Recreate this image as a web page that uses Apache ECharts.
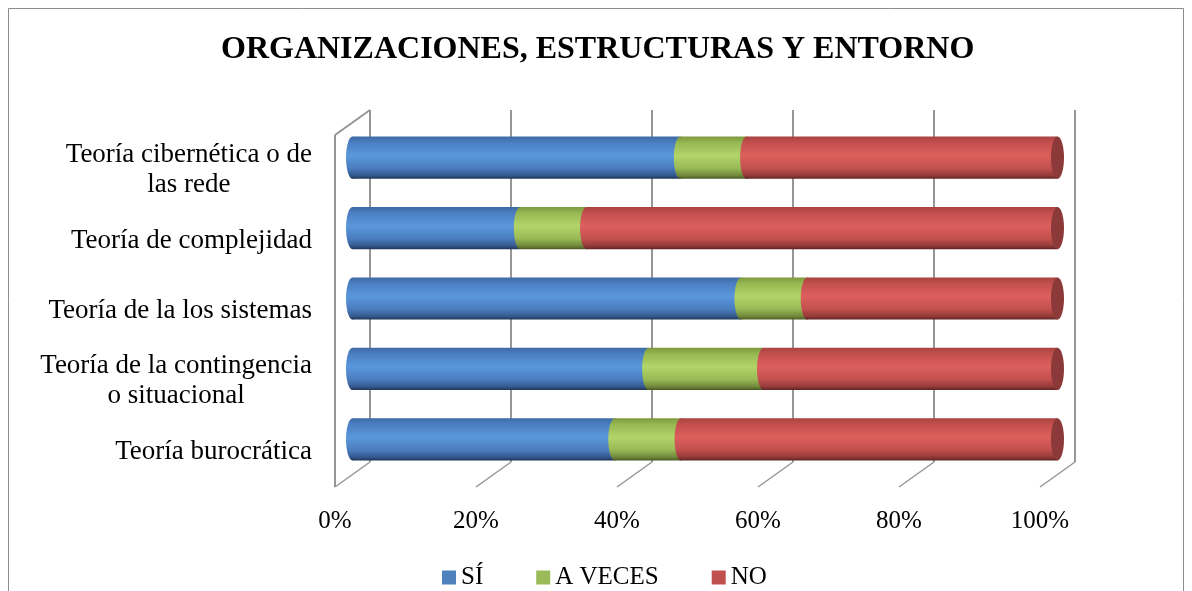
<!DOCTYPE html>
<html>
<head>
<meta charset="utf-8">
<script src="https://cdn.jsdelivr.net/npm/echarts@6/dist/echarts.min.js"></script>
<style>
  html, body { margin: 0; padding: 0; background: #fff; }
  #chart { width: 1192px; height: 591px; }
</style>
</head>
<body>
<div id="chart"></div>
<script>
// data, top row first
var categories = [
  'Teoría cibernética o de\nlas rede',
  'Teoría de complejidad',
  'Teoría de la los sistemas',
  'Teoría de la contingencia\no situacional',
  'Teoría burocrática'
];
var seriesNames = ['SÍ', 'A VECES', 'NO'];
var siValues = [46.5, 23.8, 55.1, 42.0, 37.2];
var aVecesValues = [9.4, 9.4, 9.4, 16.3, 9.4];
var noValues = [44.1, 66.8, 35.5, 41.7, 53.4];
var xTicks = [0, 20, 40, 60, 80, 100];

var FONT = "'Liberation Serif', 'Times New Roman', serif";
var DX = -35, DY = 25;   // depth of the 3d box (back wall -> front)

var flatColors = ['#4f81bd', '#9bbb59', '#c0504d'];
var gradStops = [
  ['#3d6aa5', '#4b80c3', '#5b97dc', '#4a7dbf', '#35598f', '#1f3556'],
  ['#7d9a3e', '#97b852', '#b2d56a', '#98b955', '#71883a', '#4a5a25'],
  ['#a84341', '#c4504e', '#dc5f5d', '#c2504d', '#943b39', '#5e2423']
];
var stopPos = [0, 0.15, 0.45, 0.75, 0.92, 1];

function cylGradient(s) {
  return new echarts.graphic.LinearGradient(0, 0, 0, 1, gradStops[s].map(function (c, i) {
    return {offset: stopPos[i], color: c};
  }));
}

// stacked segments [start, end, category]
var allValues = [siValues, aVecesValues, noValues];
function segments(s) {
  return categories.map(function (c, i) {
    var start = 0;
    for (var k = 0; k < s; k++) start += allValues[k][i];
    return [start, start + allValues[s][i], i];
  });
}

function renderCylinder(s) {
  return function (params, api) {
    var a = api.coord([api.value(0), api.value(2)]);
    var b = api.coord([api.value(1), api.value(2)]);
    var h = api.size([0, 1])[1] * 0.6;
    var rx = 6.5;
    var fill = cylGradient(s);
    var children = [
      {type: 'rect', shape: {x: a[0], y: a[1] - h / 2, width: b[0] - a[0], height: h}, style: {fill: fill}},
      {type: 'ellipse', shape: {cx: a[0], cy: a[1], rx: rx, ry: h / 2}, style: {fill: fill}}
    ];
    if (s === 2) {
      children.push({type: 'ellipse', shape: {cx: b[0], cy: b[1], rx: rx, ry: h / 2}, style: {fill: '#8b3a39'}});
    }
    return {type: 'group', children: children};
  };
}

function renderFrame(params, api) {
  var v = api.value(0);
  var top = api.coord([v, 1]);
  var bot = api.coord([v, 0]);
  var st = {stroke: '#969696', lineWidth: 2};
  var children = [
    {type: 'line', shape: {x1: top[0], y1: top[1], x2: bot[0], y2: bot[1]}, style: st},
    {type: 'line', shape: {x1: bot[0], y1: bot[1], x2: bot[0] + DX, y2: bot[1] + DY}, style: {stroke: '#969696', lineWidth: 1.5}}
  ];
  if (v === xTicks[0]) {
    children.push({type: 'line', shape: {x1: top[0], y1: top[1], x2: top[0] + DX, y2: top[1] + DY}, style: st});
    children.push({type: 'line', shape: {x1: top[0] + DX, y1: top[1] + DY, x2: bot[0] + DX, y2: bot[1] + DY}, style: st});
  }
  return {type: 'group', children: children};
}

var myChart = echarts.init(document.getElementById('chart'));

var labelRich = {c: {align: 'center', fontFamily: FONT, fontSize: 27, lineHeight: 30, color: '#000'}};

var series = [{
  type: 'custom',
  xAxisIndex: 1,
  yAxisIndex: 1,
  renderItem: renderFrame,
  data: xTicks.map(function (t) { return [t]; }),
  encode: {x: 0},
  silent: true,
  z: 1
}];
seriesNames.forEach(function (name, s) {
  series.push({
    name: name,
    type: 'custom',
    xAxisIndex: 2,
    yAxisIndex: 2,
    renderItem: renderCylinder(s),
    itemStyle: {color: flatColors[s]},
    encode: {x: [0, 1], y: 2},
    data: segments(s),
    z: 5
  });
});

var option = {
  backgroundColor: '#fff',
  animation: false,
  title: {
    text: 'ORGANIZACIONES, ESTRUCTURAS Y ENTORNO',
    left: 216,
    top: 29,
    textStyle: {fontFamily: FONT, fontSize: 32, fontWeight: 'bold', color: '#000'}
  },
  legend: {
    data: seriesNames,
    left: 437,
    top: 560,
    icon: 'rect',
    itemWidth: 14,
    itemHeight: 14,
    itemGap: 53,
    textStyle: {fontFamily: FONT, fontSize: 25, color: '#000'}
  },
  graphic: [{
    type: 'rect',
    shape: {x: 8.5, y: 8.5, width: 1175, height: 600},
    style: {fill: 'none', stroke: '#8c8c8c', lineWidth: 1},
    silent: true
  }],
  grid: [
    {left: 335, top: 135, width: 705, height: 352},   // front plane (labels)
    {left: 370, top: 110, width: 705, height: 352},   // back wall
    {left: 352.5, top: 122.5, width: 705, height: 352} // bars
  ],
  xAxis: [
    {
      gridIndex: 0, type: 'value', min: 0, max: 100, interval: 20,
      axisLine: {show: false}, axisTick: {show: false}, splitLine: {show: false},
      axisLabel: {formatter: '{value}%', margin: 22, fontFamily: FONT, fontSize: 25, color: '#000'}
    },
    {gridIndex: 1, type: 'value', min: 0, max: 100, interval: 20, show: false},
    {gridIndex: 2, type: 'value', min: 0, max: 100, interval: 20, show: false}
  ],
  yAxis: [
    {
      gridIndex: 0, type: 'category', data: categories, inverse: true,
      axisLine: {show: false}, axisTick: {show: false},
      axisLabel: {
        margin: 23,
        formatter: function (v) {
          return v.split('\n').map(function (l) { return '{c|' + l + '}'; }).join('\n');
        },
        rich: labelRich
      }
    },
    {gridIndex: 1, type: 'value', min: 0, max: 1, show: false},
    {gridIndex: 2, type: 'category', data: categories, inverse: true, show: false}
  ],
  series: series
};

myChart.setOption(option);
</script>
</body>
</html>
